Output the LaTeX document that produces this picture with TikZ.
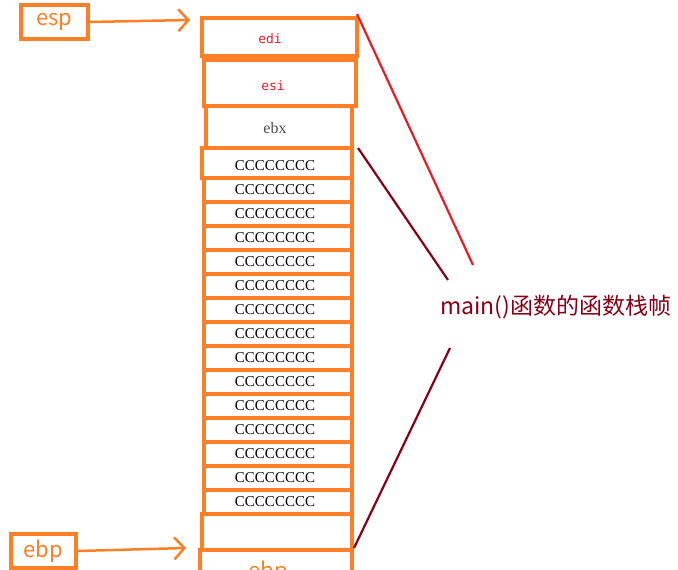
\documentclass[tikz,border=0pt]{standalone}
\usepackage{fontspec}
\usetikzlibrary{arrows.meta}
\setmainfont{Liberation Serif}
\newfontfamily\cjk{Noto Sans CJK SC}
\newfontfamily\monof{DejaVu Sans Mono}
\definecolor{org}{HTML}{FF7F27}
\definecolor{dred}{HTML}{880015}
\definecolor{bred}{HTML}{ED1C24}
\begin{document}
\begin{tikzpicture}[x=1pt,y=-1pt,
  cell/.style={draw=org,line width=3.2pt},
  cc/.style={font=\fontsize{15}{15}\selectfont},
  lab/.style={draw=org,line width=3.2pt,text=org,font=\cjk\fontsize{22}{22}\selectfont,inner sep=0pt,minimum height=34pt},
  arr/.style={draw=org,line width=2.5pt,-{Straight Barb[length=10pt,width=22pt]}}]
\useasboundingbox (0,0) rectangle (678,570);
\draw[cell] (202,18) rectangle (357,56);
\node[text=bred,font=\monof\fontsize{13}{13}\selectfont] (edi) at (270,39) {edi};
\draw[cell] (204,60) rectangle (356,106);
\node[text=bred,font=\monof\fontsize{13}{13}\selectfont] (esi) at (273,86) {esi};
\draw[cell] (206,106) rectangle (352,148);
\node[text=gray!60!black,font=\fontsize{16}{16}\selectfont] (ebx) at (275,128) {ebx};
\draw[cell] (202,148) rectangle (352,178);
\node[cc] at (275,166) {CCCCCCCC};
\foreach \k in {1,...,14}{
  \pgfmathsetmacro\ya{154+24*\k}
  \pgfmathsetmacro\yb{178+24*\k}
  \pgfmathsetmacro\yc{166+24*\k}
  \draw[cell] (204,\ya) rectangle (352,\yb);
  \node[cc] at (275,\yc) {CCCCCCCC};
}
\draw[cell] (202,514) rectangle (352,550);
\draw[cell] (200,550) rectangle (352,580);
\node[font=\cjk\fontsize{22}{22}\selectfont,text=org] (ebp2) at (268,572) {ebp};
\node[lab,minimum width=67pt] (esp) at (54.5,22) {esp};
\node[lab,minimum width=65pt] (ebp) at (43.5,551) {ebp};
\coordinate (ta) at (190,20);
\coordinate (tb) at (186,548);
\draw[arr] (esp.east) -- (ta);
\draw[arr] (ebp.east) -- (tb);
\node[text=dred,font=\cjk\fontsize{23}{23}\selectfont,anchor=west,inner sep=0pt] (m) at (440,307) {main()函数的函数栈帧};
\coordinate (r1) at (357,14);\coordinate (r2) at (473,265);
\draw[bred,line width=2.2pt] (r1) -- (r2);
\coordinate (d1) at (358,148);\coordinate (d2) at (448,280);
\draw[dred,line width=2.2pt] (d1) -- (d2);
\coordinate (d3) at (450,348);\coordinate (d4) at (354,548);
\draw[dred,line width=2.2pt] (d3) -- (d4);
\end{tikzpicture}
\end{document}
